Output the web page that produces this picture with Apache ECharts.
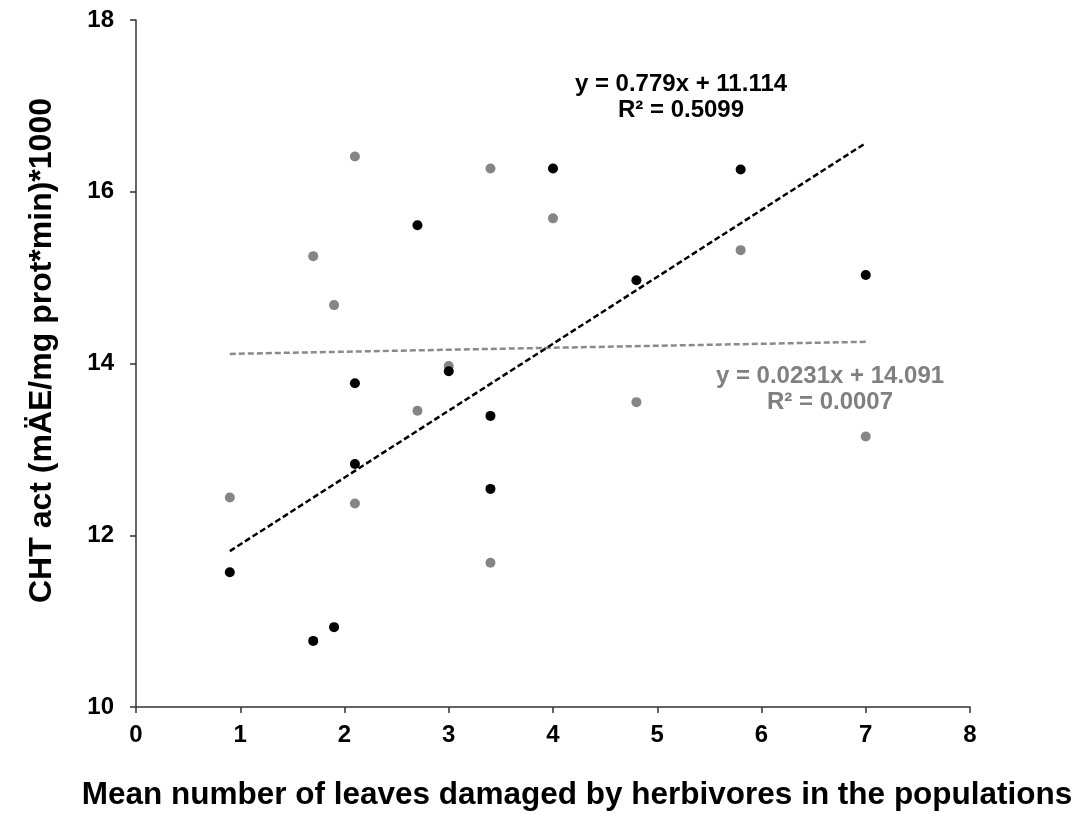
<!DOCTYPE html>
<html>
<head>
<meta charset="utf-8">
<script src="https://cdn.jsdelivr.net/npm/echarts@6/dist/echarts.min.js"></script>
<style>html,body{margin:0;padding:0;background:#fff}#c{width:1078px;height:814px}</style>
</head>
<body>
<div id="c"></div>
<script>
// Data
const blackX = [0.9, 1.7, 1.9, 2.1, 2.1, 2.7, 3.0, 3.4, 3.4, 4.0, 4.8, 5.8, 7.0];
const blackY = [11.57, 10.77, 10.93, 13.77, 12.83, 15.61, 13.91, 13.39, 12.54, 16.27, 14.97, 16.26, 15.03];
const grayX = [0.9, 1.7, 1.9, 2.1, 2.1, 2.7, 3.0, 3.4, 3.4, 4.0, 4.8, 5.8, 7.0];
const grayY = [12.44, 15.25, 14.68, 16.41, 12.37, 13.45, 13.97, 16.27, 11.68, 15.69, 13.55, 15.32, 13.15];
// Trend line coefficients (slope, intercept) and x range
const blackFit = [0.779, 11.114];
const grayFit = [0.0231, 14.091];
const fitRange = [0.9, 7.0];
const xTicks = [0, 1, 2, 3, 4, 5, 6, 7, 8];
const yTicks = [10, 12, 14, 16, 18];
const blackEq = ['y = 0.779x + 11.114', 'R² = 0.5099'];
const grayEq = ['y = 0.0231x + 14.091', 'R² = 0.0007'];

const pts = (xs, ys) => xs.map((x, i) => [x, ys[i]]);
const fitLine = f => fitRange.map(x => [x, f[0] * x + f[1]]);

const FONT = '"Liberation Sans", Arial, sans-serif';
const eqText = (lines, cx, cy, color) => lines.map((t, i) => ({
  type: 'text', x: cx, y: cy + i * 26, z: 10,
  style: {text: t, fill: color, font: 'bold 24px ' + FONT, textAlign: 'center', textVerticalAlign: 'middle'}
}));

const chart = echarts.init(document.getElementById('c'), null, {renderer: 'canvas'});
chart.setOption({
  animation: false,
  backgroundColor: '#fff',
  grid: {left: 136, right: 108, top: 20, bottom: 107, containLabel: false, outerBoundsMode: 'none'},
  xAxis: {
    type: 'value', min: xTicks[0], max: xTicks[xTicks.length - 1], interval: 1,
    axisLine: {lineStyle: {color: '#333', width: 1.5}},
    axisTick: {show: true, length: 6, inside: false, lineStyle: {color: '#333', width: 1.5}},
    axisLabel: {color: '#000', fontFamily: FONT, fontWeight: 'bold', fontSize: 24, margin: 16},
    splitLine: {show: false},
    name: 'Mean number of leaves damaged by herbivores in the populations',
    nameLocation: 'middle', nameGap: 72,
    nameTextStyle: {color: '#000', fontFamily: FONT, fontWeight: 'bold', fontSize: 31.5, padding: [0, 0, 0, 48]}
  },
  yAxis: {
    type: 'value', min: yTicks[0], max: yTicks[yTicks.length - 1], interval: 2,
    axisLine: {show: true, lineStyle: {color: '#333', width: 1.5}},
    axisTick: {show: true, length: 6, lineStyle: {color: '#333', width: 1.5}},
    axisLabel: {color: '#000', fontFamily: FONT, fontWeight: 'bold', fontSize: 24, margin: 22},
    splitLine: {show: false},
    name: 'CHT act (mÄE/mg prot*min)*1000',
    nameLocation: 'middle', nameGap: 78,
    nameTextStyle: {color: '#000', fontFamily: FONT, fontWeight: 'bold', fontSize: 32, padding: [0, 0, 0, 26]}
  },
  series: [
    {type: 'scatter', data: pts(grayX, grayY), symbolSize: 10, itemStyle: {color: '#858585', opacity: 1}, z: 3},
    {type: 'scatter', data: pts(blackX, blackY), symbolSize: 10, itemStyle: {color: '#000', opacity: 1}, z: 4},
    {type: 'line', data: fitLine(grayFit), showSymbol: false, symbol: 'none',
     lineStyle: {color: '#8a8a8a', width: 2.5, type: [6, 3]}, z: 2},
    {type: 'line', data: fitLine(blackFit), showSymbol: false, symbol: 'none',
     lineStyle: {color: '#000', width: 2.5, type: [6, 3]}, z: 5}
  ],
  graphic: [].concat(eqText(blackEq, 681, 84, '#000'), eqText(grayEq, 830, 376, '#808080'))
});
</script>
</body>
</html>
